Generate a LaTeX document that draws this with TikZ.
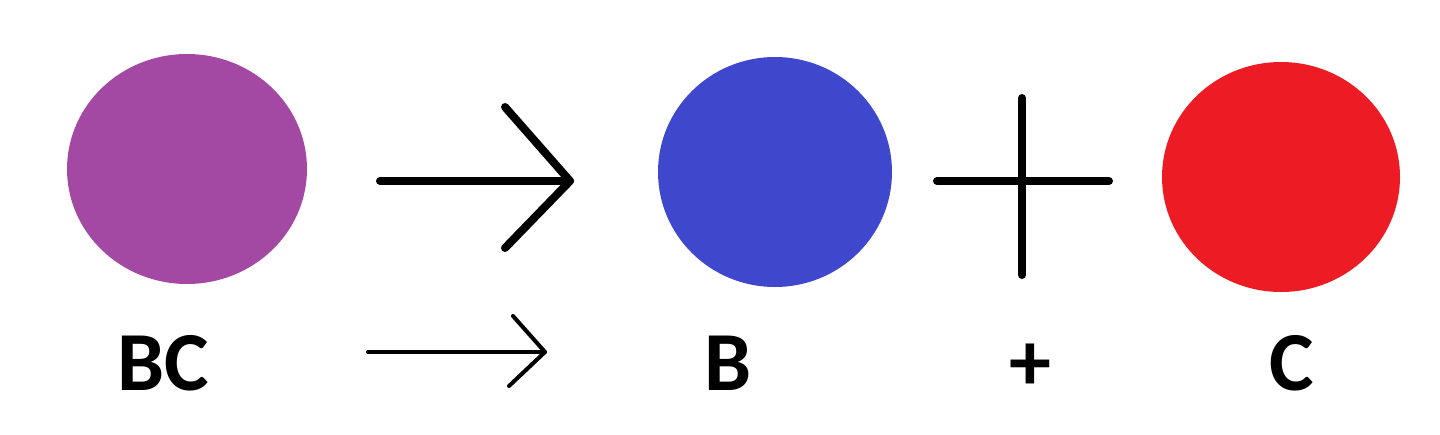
\documentclass[tikz,border=0pt]{standalone}
\usepackage{fontspec}
\setmainfont{Carlito}
\usetikzlibrary{shapes.geometric}
\definecolor{ppurple}{RGB}{163,73,164}
\definecolor{pblue}{RGB}{63,72,204}
\definecolor{pred}{RGB}{237,28,36}
\tikzset{
  ball/.style={ellipse, inner sep=0pt, draw=none},
  thick stroke/.style={line width=4pt, line cap=round, line join=round},
  thin stroke/.style={line width=2pt, line cap=round, line join=round},
  lbl/.style={anchor=base, inner sep=0pt, font=\fontsize{42}{50}\selectfont\bfseries}
}
\begin{document}
\begin{tikzpicture}[x=0.5pt,y=-0.5pt]
\useasboundingbox (0,0) rectangle (1440,434);
\node[ball, fill=ppurple, minimum width=120pt, minimum height=115pt] (bc) at (187,169) {};
\node[ball, fill=pblue, minimum width=117pt, minimum height=115pt] (b) at (775,172) {};
\node[ball, fill=pred, minimum width=119pt, minimum height=115pt] (c) at (1281,177) {};
% big arrow
\coordinate (a1) at (380,181);
\coordinate (a2) at (570,181);
\coordinate (a3) at (505,107);
\coordinate (a4) at (505,248);
\draw[thick stroke] (a1) -- (a2);
\draw[thick stroke] (a3) -- (a2) -- (a4);
% plus
\coordinate (p1) at (937,181);
\coordinate (p2) at (1109,181);
\coordinate (p3) at (1022,98);
\coordinate (p4) at (1022,275);
\draw[thick stroke] (p1) -- (p2);
\draw[thick stroke] (p3) -- (p4);
% labels
\node[lbl] (tbc) at (163,390) {BC};
\node[lbl] (tb) at (728,390) {B};
\node[lbl] (tp) at (1030,390) {+};
\node[lbl] (tc) at (1292,390) {C};
% small arrow
\coordinate (s1) at (368,352);
\coordinate (s2) at (545,352);
\coordinate (s3) at (513,316);
\coordinate (s4) at (509,386);
\draw[thin stroke] (s1) -- (s2);
\draw[thin stroke] (s3) -- (s2) -- (s4);
\end{tikzpicture}
\end{document}
